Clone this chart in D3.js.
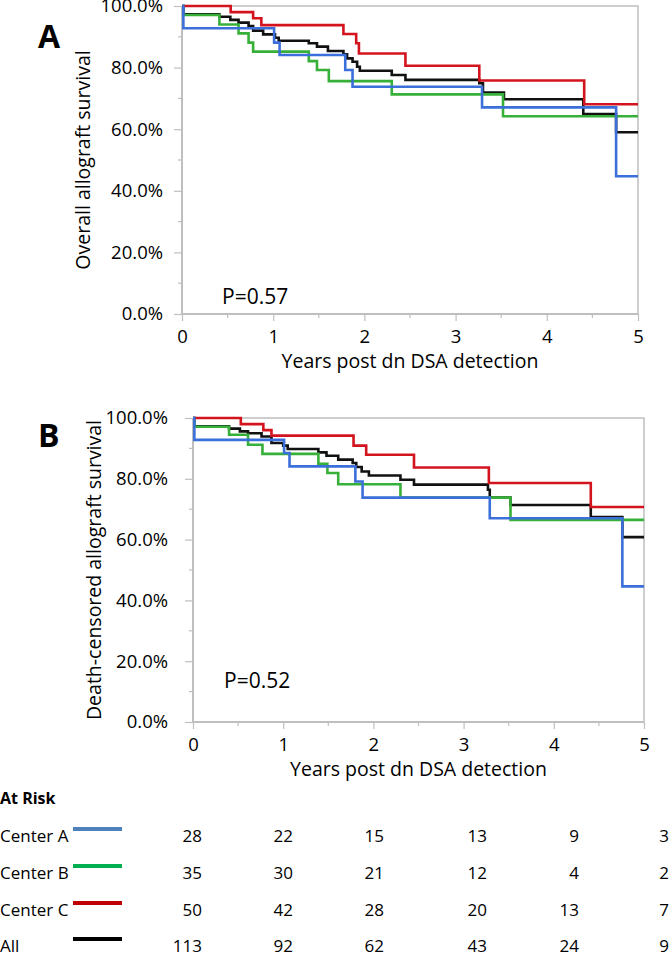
<!DOCTYPE html>
<html><head><meta charset="utf-8">
<script src="https://cdn.jsdelivr.net/npm/d3@7"></script>
<style>body{margin:0;background:#fff}svg{display:block;font-family:"Open Sans",sans-serif}</style>
</head><body>
<svg id="c" width="669" height="954"></svg>
<script>
// ---------- data ----------
const seriesNames = ["Center A", "Center B", "Center C", "All"];
const xTicks = [0, 1, 2, 3, 4, 5];
const yTicks = [0, 20, 40, 60, 80, 100];

// Panel A: overall allograft survival (time in years, survival %)
const A_centerA_t = [0, 0.015, 1.01, 1.07, 1.79, 1.87, 3.29, 4.76];
const A_centerA_s = [100, 92.8, 88.1, 84.1, 79.2, 73.8, 67.1, 44.7];
const A_centerB_t = [0, 0.015, 0.41, 0.62, 0.73, 0.78, 1.39, 1.48, 1.61, 2.30, 3.52];
const A_centerB_s = [100, 97.1, 94.0, 91.1, 88.1, 85.2, 82.1, 79.2, 75.6, 71.3, 64.2];
const A_centerC_t = [0, 0.534, 0.78, 0.87, 1.77, 1.91, 1.94, 2.45, 3.26, 4.41];
const A_centerC_s = [100, 98.0, 96.0, 93.8, 90.9, 87.9, 84.6, 80.6, 75.8, 68.1];
const A_all_t = [0, 0.015, 0.41, 0.53, 0.62, 0.73, 0.78, 0.89, 1.02, 1.06, 1.39, 1.48, 1.60, 1.77, 1.81, 1.87, 1.92, 1.95, 2.30, 2.45, 3.26, 3.30, 3.53, 4.40, 4.76];
const A_all_s = [100, 97.3, 96.5, 95.5, 94.6, 93.5, 92.0, 90.8, 89.7, 88.7, 87.9, 86.8, 85.4, 84.3, 83.0, 81.9, 80.3, 79.0, 77.6, 76.0, 74.9, 71.9, 69.7, 64.9, 59.0];

// Panel B: death-censored allograft survival
const B_centerA_t = [0, 0.015, 1.01, 1.07, 1.80, 1.88, 3.29, 4.76];
const B_centerA_s = [100, 92.8, 88.5, 84.1, 79.1, 73.8, 67.0, 44.6];
const B_centerB_t = [0, 0.015, 0.40, 0.61, 0.77, 1.39, 1.49, 1.61, 2.30, 3.52];
const B_centerB_s = [100, 97.1, 94.5, 91.2, 88.2, 84.9, 81.9, 78.2, 73.8, 66.5];
const B_centerC_t = [0, 0.53, 0.78, 0.87, 1.78, 1.92, 2.45, 3.28, 4.41];
const B_centerC_s = [100, 98.0, 96.0, 94.2, 90.9, 87.9, 83.7, 78.6, 70.7];
const B_all_t = [0, 0.015, 0.40, 0.52, 0.61, 0.76, 0.87, 1.00, 1.05, 1.39, 1.48, 1.61, 1.77, 1.81, 1.87, 1.95, 2.30, 2.45, 3.27, 3.29, 3.52, 4.41, 4.76];
const B_all_s = [100, 97.3, 96.5, 95.6, 95.0, 93.9, 91.8, 90.9, 89.8, 88.7, 87.6, 86.3, 85.2, 83.9, 82.4, 81.1, 79.7, 78.1, 76.4, 73.8, 71.4, 67.4, 60.8];

// At-risk table
const riskTimes = [0, 1, 2, 3, 4, 5];
const risk_centerA = [28, 22, 15, 13, 9, 3];
const risk_centerB = [35, 30, 21, 12, 4, 2];
const risk_centerC = [50, 42, 28, 20, 13, 7];
const risk_all = [113, 92, 62, 43, 24, 9];

// ---------- styles ----------
const lineColors = {"Center A": "#3b6fd9", "Center B": "#37b03a", "Center C": "#d3141f", "All": "#111111"};
const legendColors = {"Center A": "#4f81bd", "Center B": "#00b050", "Center C": "#c00000", "All": "#000000"};
const axisColor = "#bfbfbf";

const svg = d3.select("#c");

function panel(cfg) {
  const x = d3.scaleLinear().domain([0, 5]).range([cfg.x0, cfg.x1]);
  const y = d3.scaleLinear().domain([0, 100]).range([cfg.y0, cfg.y1]);
  const g = svg.append("g");
  const clipId = "clip" + cfg.label;
  svg.append("clipPath").attr("id", clipId).append("rect")
    .attr("x", cfg.x0 - 2).attr("y", cfg.y1 - 2).attr("width", cfg.x1 - cfg.x0 + 4).attr("height", cfg.y0 - cfg.y1 + 4);

  // border (top/right)
  g.append("path").attr("d", `M${cfg.x0},${cfg.y1}H${cfg.x1}V${cfg.y0}`)
    .attr("fill", "none").attr("stroke", axisColor).attr("stroke-width", 1.5);

  // minor ticks
  const yMinor = d3.range(10, 100, 20);
  g.selectAll(".ym").data(yMinor).join("line")
    .attr("x1", cfg.x0 - 4).attr("x2", cfg.x0).attr("y1", d => y(d)).attr("y2", d => y(d))
    .attr("stroke", axisColor).attr("stroke-width", 1.2);
  const xMinor = d3.range(0.5, 5, 1);
  g.selectAll(".xm").data(xMinor).join("line")
    .attr("x1", d => x(d)).attr("x2", d => x(d)).attr("y1", cfg.y0).attr("y2", cfg.y0 + 4)
    .attr("stroke", axisColor).attr("stroke-width", 1.2);

  // y axis
  const ya = g.append("g").attr("transform", `translate(${cfg.x0},0)`)
    .call(d3.axisLeft(y).tickValues(yTicks).tickFormat(d => d.toFixed(1) + "%").tickSize(8).tickPadding(cfg.yPad));
  // x axis
  const xa = g.append("g").attr("transform", `translate(0,${cfg.y0})`)
    .call(d3.axisBottom(x).tickValues(xTicks).tickFormat(d3.format("d")).tickSize(7).tickPadding(9));
  [ya, xa].forEach(a => {
    a.select(".domain").attr("stroke", axisColor).attr("stroke-width", 2);
    a.selectAll(".tick line").attr("stroke", axisColor).attr("stroke-width", 1.2);
    a.selectAll(".tick text").attr("fill", "#000").style("font-size", "18.5px").style("font-family", '"Open Sans",sans-serif');
  });
  ya.select(".domain").attr("d", `M0,${cfg.y0}V${cfg.y1}`);
  xa.select(".domain").attr("d", `M${cfg.x0},0H${cfg.x1}`);

  // curves
  const line = d3.line().x(d => x(d[0])).y(d => y(d[1])).curve(d3.curveStepAfter);
  const order = ["All", "Center B", "Center C", "Center A"];
  order.forEach(name => {
    const s = cfg.series[name];
    const pts = s.t.map((t, i) => [t, s.s[i]]);
    pts.push([5, s.s[s.s.length - 1]]);
    g.append("path").attr("d", line(pts)).attr("fill", "none")
      .attr("stroke", lineColors[name]).attr("stroke-width", 2.6)
      .attr("clip-path", `url(#${clipId})`);
  });

  // labels
  g.append("text").attr("x", 38).attr("y", cfg.labelY).text(cfg.label)
    .style("font-size", "32px").style("font-weight", "bold");
  g.append("text").attr("transform", `translate(${cfg.titleX},${(cfg.y0 + cfg.y1) / 2}) rotate(-90)`)
    .attr("text-anchor", "middle").text(cfg.yTitle).style("font-size", "19.5px");
  g.append("text").attr("x", (cfg.x0 + cfg.x1) / 2).attr("y", cfg.y0 + 54)
    .attr("text-anchor", "middle").text("Years post dn DSA detection").style("font-size", "19.5px");
  g.append("text").attr("x", cfg.pX).attr("y", cfg.pY).text(cfg.pText).style("font-size", "21px");
}

panel({label: "A", x0: 182, x1: 638, y0: 314, y1: 6, yPad: 11, labelY: 48, titleX: 90,
  yTitle: "Overall allograft survival", pX: 222, pY: 304, pText: "P=0.57",
  series: {"Center A": {t: A_centerA_t, s: A_centerA_s}, "Center B": {t: A_centerB_t, s: A_centerB_s},
           "Center C": {t: A_centerC_t, s: A_centerC_s}, "All": {t: A_all_t, s: A_all_s}}});
panel({label: "B", x0: 193, x1: 644, y0: 722, y1: 418, yPad: 17, labelY: 447, titleX: 101,
  yTitle: "Death-censored allograft survival", pX: 224, pY: 688, pText: "P=0.52",
  series: {"Center A": {t: B_centerA_t, s: B_centerA_s}, "Center B": {t: B_centerB_t, s: B_centerB_s},
           "Center C": {t: B_centerC_t, s: B_centerC_s}, "All": {t: B_all_t, s: B_all_s}}});

// ---------- at-risk table ----------
const colX = d3.scaleOrdinal().domain(riskTimes).range([202, 293, 384, 487, 579, 669]);
const rowY = d3.scaleOrdinal().domain(seriesNames).range([842, 879, 916, 952]);
const riskRows = {"Center A": risk_centerA, "Center B": risk_centerB, "Center C": risk_centerC, "All": risk_all};
const tg = svg.append("g");
tg.append("text").attr("x", 0).attr("y", 804).text("At Risk").style("font-size", "16px").style("font-weight", "bold");
seriesNames.forEach(name => {
  const yy = rowY(name);
  tg.append("text").attr("x", 0).attr("y", yy).text(name).style("font-size", "17px");
  tg.append("line").attr("x1", 73).attr("x2", 122).attr("y1", yy - 13).attr("y2", yy - 13)
    .attr("stroke", legendColors[name]).attr("stroke-width", 4);
  riskTimes.forEach((t, i) => {
    tg.append("text").attr("x", colX(t)).attr("y", yy).attr("text-anchor", "end")
      .text(riskRows[name][i]).style("font-size", "17px");
  });
});
</script>
</body></html>
